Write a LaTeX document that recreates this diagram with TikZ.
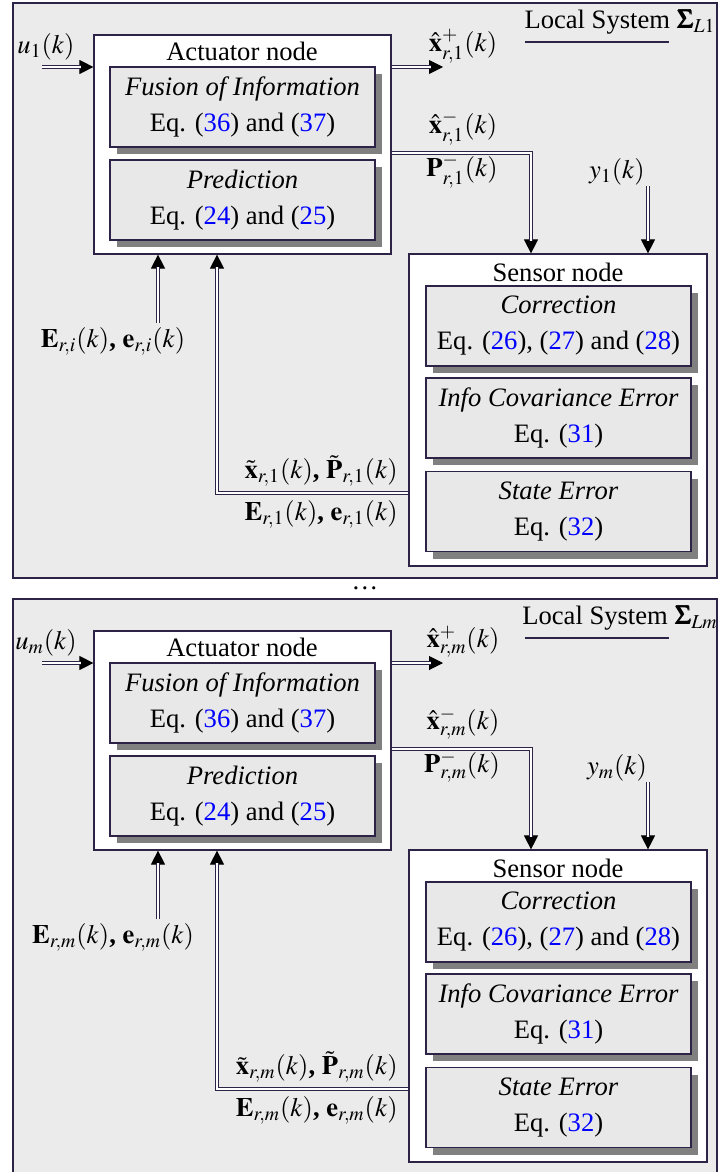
\documentclass[tikz,border=0pt]{standalone}
\usepackage{amsmath}
\usepackage{mathptmx}
\usepackage{bm}
\usepackage{fontspec}
\setmainfont{Liberation Serif}
\usetikzlibrary{arrows.meta,shadows}
\definecolor{lc}{RGB}{45,35,70}
\definecolor{panelfill}{RGB}{235,235,235}
\definecolor{boxfill}{RGB}{232,232,232}
\definecolor{shadowgray}{RGB}{128,128,128}
\definecolor{eqblue}{RGB}{0,0,255}
\newcommand\eqn[1]{\textcolor{eqblue}{#1}}
\tikzset{
  panelbox/.style={draw=lc, line width=0.8pt, fill=panelfill},
  outerbox/.style={draw=lc, line width=0.6pt, fill=white, inner sep=0pt},
  innerbox/.style={draw=lc, line width=0.6pt, fill=boxfill, minimum width=132.5pt,
    minimum height=40pt, align=center, inner sep=0pt,
    font=\fontsize{13.3}{18}\selectfont,
    drop shadow={shadow xshift=3.5pt, shadow yshift=-3.5pt, fill=shadowgray, opacity=1, draw=none}},
  lbl/.style={inner sep=0pt},
  dblline/.style={draw=lc, line width=0.5pt, double=white, double distance=1pt, shorten >=6pt},
  tipline/.style={draw=lc, line width=0.5pt, -{Triangle[length=7pt,width=7pt,color=black]}},
  uline/.style={draw=lc, line width=0.6pt}
}
\newcommand\darrow[1]{\draw[tipline] #1; \draw[dblline] #1;}
% #1 shift (px), #2 index, #3 E index, #4 name suffix
\newcommand\drawpanel[4]{%
\begin{scope}[shift={(0,#1)}]
  \draw[panelbox] (13,3) rectangle (717,578);
  % title
  \node[lbl] (ls#4) at (620,22) {Local System $\bm{\Sigma}_{L#2}$};
  \coordinate (ula#4) at (525,42);
  \coordinate (ulb#4) at (669,42);
  \draw[uline] (ula#4) -- (ulb#4);
  % actuator
  \node[outerbox, minimum width=148.5pt, minimum height=109.5pt] (act#4) at (242.5,144.5) {};
  \node[lbl] (actl#4) at (242,51) {Actuator node};
  \node[innerbox] (fus#4) at (242.5,107) {\textit{Fusion of Information}\\Eq. (\eqn{36}) and (\eqn{37})};
  \node[innerbox] (pre#4) at (242.5,200) {\textit{Prediction}\\Eq. (\eqn{24}) and (\eqn{25})};
  % sensor
  \node[outerbox, minimum width=149pt, minimum height=156pt] (sen#4) at (558,410) {};
  \node[lbl] (senl#4) at (558,272) {Sensor node};
  \node[innerbox] (cor#4) at (558.5,326) {\textit{Correction}\\Eq. (\eqn{26}), (\eqn{27}) and (\eqn{28})};
  \node[innerbox] (inf#4) at (558.5,418) {\textit{Info Covariance Error}\\Eq. (\eqn{31})};
  \node[innerbox] (ste#4) at (558.5,511.5) {\textit{State Error}\\Eq. (\eqn{32})};
  % coordinates
  \coordinate (us#4) at (42,67);
  \coordinate (xp#4) at (443,67);
  \coordinate (xm#4) at (531,153);
  \coordinate (ys#4) at (648,186);
  \coordinate (es#4) at (158,323);
  \coordinate (fb#4) at (217,493);
  % connectors
  \darrow{(us#4) -- (act#4.west |- us#4)}
  \darrow{(act#4.east |- xp#4) -- (xp#4)}
  \darrow{(act#4.east |- xm#4) -- (xm#4) -- (sen#4.north -| xm#4)}
  \darrow{(ys#4) -- (sen#4.north -| ys#4)}
  \darrow{(es#4) -- (act#4.south -| es#4)}
  \darrow{(sen#4.west |- fb#4) -- (fb#4) -- (act#4.south -| fb#4)}
  % labels
  \node[lbl] (ul#4) at (46,47) {$u_{#2}(k)$};
  \node[lbl] (xpl#4) at (463,46) {$\hat{\mathbf{x}}^{+}_{r,#2}(k)$};
  \node[lbl] (xml#4) at (463,128) {$\hat{\mathbf{x}}^{-}_{r,#2}(k)$};
  \node[lbl] (pml#4) at (462,171) {$\mathbf{P}^{-}_{r,#2}(k)$};
  \node[lbl] (yl#4) at (617,172) {$y_{#2}(k)$};
  \node[lbl] (el#4) at (113,341) {$\mathbf{E}_{r,#3}(k)$\textbf{,} $\mathbf{e}_{r,#3}(k)$};
  \node[lbl, anchor=east] (fbt#4) at (398,471) {$\tilde{\mathbf{x}}_{r,#2}(k)$\textbf{,} $\tilde{\mathbf{P}}_{r,#2}(k)$};
  \node[lbl, anchor=east] (fbb#4) at (398,514) {$\mathbf{E}_{r,#2}(k)$\textbf{,} $\mathbf{e}_{r,#2}(k)$};
\end{scope}}
\begin{document}
\begin{tikzpicture}[x=0.5pt,y=-0.5pt,font=\fontsize{13.3}{16}\selectfont]
\useasboundingbox (0,0) rectangle (727,1172);
\clip (0,0) rectangle (727,1172);
\drawpanel{0}{1}{i}{a}
\node[lbl] (dots) at (365,588) {\dots};
\drawpanel{596}{m}{m}{b}
\end{tikzpicture}
\end{document}
